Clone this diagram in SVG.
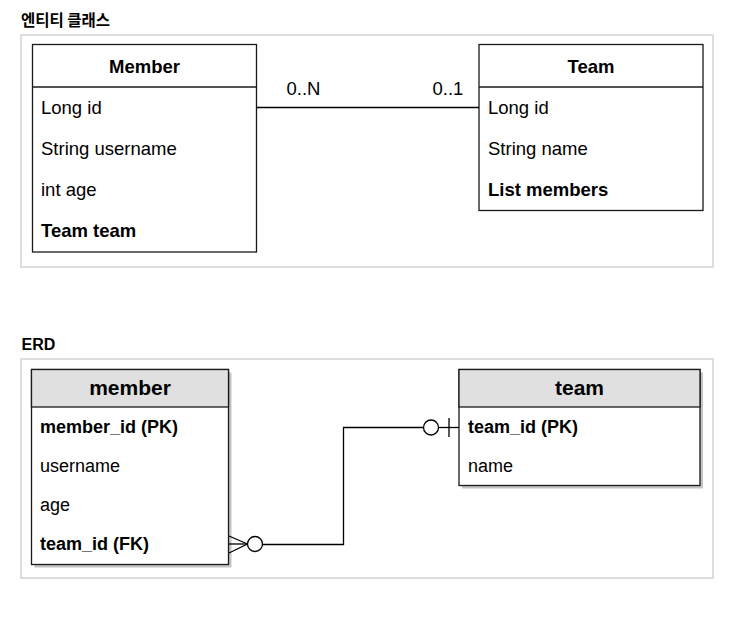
<svg xmlns="http://www.w3.org/2000/svg" width="736" height="623" viewBox="0 0 736 623">
<style>
  .frame{fill:#fff;stroke:#dddddd;stroke-width:2}
  .box{fill:#fff;stroke:#1a1a1a;stroke-width:1.3}
  .hdr{fill:#e0e0e0;stroke:#1a1a1a;stroke-width:1.3}
  .shadow{fill:#c4c4c4}
  .div{stroke:#1a1a1a;stroke-width:1.3}
  .t{font-family:"Liberation Sans",Arial,sans-serif;fill:#000}
  .f{font-size:18.5px}
  .h{font-size:18.5px;font-weight:bold;text-anchor:middle}
  .b{font-weight:bold}
  .ef{font-size:18px}
  .eh{font-size:21px;font-weight:bold;text-anchor:middle}
  .title{font-family:"Noto Sans CJK KR","Liberation Sans",sans-serif;font-size:15.5px;font-weight:bold;fill:#000}
  .erdtitle{font-family:"Liberation Sans",Arial,sans-serif;font-size:16px;font-weight:bold;fill:#000}
  .conn line,.conn path,.conn circle{stroke:#000;stroke-width:1.3;fill:none}
  .conn circle{fill:#fff}
</style>
<rect width="736" height="623" fill="#fff"/>
<text class="title" x="21" y="26">엔티티 클래스</text>
<rect class="frame" x="21" y="35" width="692" height="232"/>
<text class="erdtitle" x="21.5" y="350">ERD</text>
<rect class="frame" x="21" y="359" width="692" height="219"/>

<g id="class-member">
  <rect class="box" x="32.5" y="44.5" width="224" height="207.5"/>
  <line class="div" x1="32.5" y1="87" x2="256.5" y2="87"/>
  <text class="t h" x="144.5" y="73">Member</text>
  <text class="t f" x="41" y="114">Long id</text>
  <text class="t f" x="41" y="155">String username</text>
  <text class="t f" x="41" y="196">int age</text>
  <text class="t f b" x="41" y="237">Team team</text>
</g>

<g id="class-team">
  <rect class="box" x="479" y="44.5" width="224" height="166"/>
  <line class="div" x1="479" y1="87" x2="703" y2="87"/>
  <text class="t h" x="591" y="73">Team</text>
  <text class="t f" x="488" y="114">Long id</text>
  <text class="t f" x="488" y="155">String name</text>
  <text class="t f b" x="488" y="196">List members</text>
</g>

<g id="erd-member">
  <rect class="shadow" x="34.5" y="372.5" width="197" height="195"/>
  <rect class="box" x="31.5" y="369.5" width="197" height="195"/>
  <rect class="hdr" x="31.5" y="369.5" width="197" height="37.5"/>
  <text class="t eh" x="130" y="395">member</text>
  <text class="t ef b" x="40" y="433">member_id (PK)</text>
  <text class="t ef" x="40" y="472">username</text>
  <text class="t ef" x="40" y="511">age</text>
  <text class="t ef b" x="40" y="550">team_id (FK)</text>
</g>

<g id="erd-team">
  <rect class="shadow" x="462" y="372.5" width="241" height="116"/>
  <rect class="box" x="459" y="369.5" width="241" height="116"/>
  <rect class="hdr" x="459" y="369.5" width="241" height="37.5"/>
  <text class="t eh" x="579.5" y="395">team</text>
  <text class="t ef b" x="468" y="433">team_id (PK)</text>
  <text class="t ef" x="468" y="472">name</text>
</g>

<g id="connectors" class="conn">
  <line x1="256.5" y1="107.5" x2="479" y2="107.5"/>
  <text class="t f" x="286.5" y="95" style="stroke:none;fill:#000">0..N</text>
  <text class="t f" x="432.5" y="95" style="stroke:none;fill:#000">0..1</text>

  <line x1="229" y1="536" x2="247.5" y2="544"/>
  <line x1="229" y1="544" x2="247.5" y2="544"/>
  <line x1="229" y1="553" x2="247.5" y2="544"/>
  <circle cx="255" cy="544" r="7.5"/>
  <path d="M262.5,544.5 H343.5 V427.5 H423.5"/>
  <circle cx="431" cy="427.5" r="7.5"/>
  <line x1="438.5" y1="427.5" x2="459" y2="427.5"/>
  <line x1="449" y1="418" x2="449" y2="437"/>
</g>
</svg>
